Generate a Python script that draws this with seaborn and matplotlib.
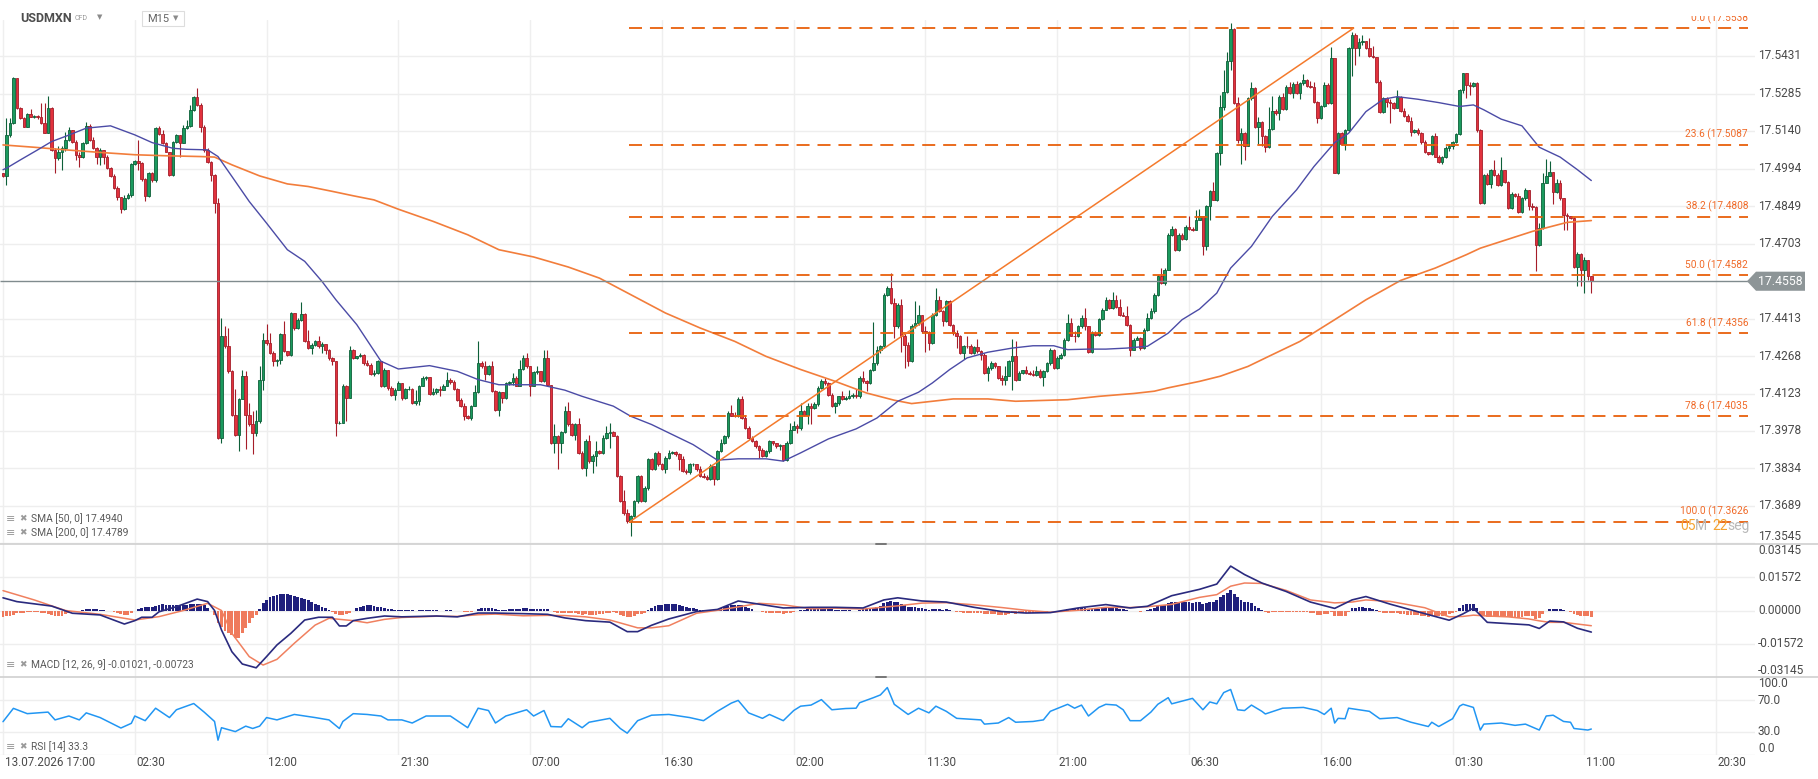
import numpy as np
import pandas as pd
import seaborn as sns
import matplotlib.pyplot as plt
import matplotlib.transforms as mtrans
from matplotlib.patches import Polygon, Rectangle
from matplotlib.lines import Line2D

sns.set_style("white")
plt.rcParams['font.family'] = ['Roboto', 'DejaVu Sans']

# ---- price data (M15 candles) ----
OPEN_FIRST = 17.4977
CLOSE = [
    17.4964, 17.5125, 17.5170, 17.5344, 17.5228, 17.5189, 17.5157, 17.5205, 17.5196, 17.5199,
    17.5193, 17.5170, 17.5134, 17.5231, 17.5067, 17.5035, 17.5060, 17.5073, 17.5106, 17.5144,
    17.5099, 17.5048, 17.5039, 17.5093, 17.5160, 17.5106, 17.5073, 17.5041, 17.5067, 17.5041,
    17.4996, 17.4964, 17.4919, 17.4886, 17.4837, 17.4880, 17.4893, 17.5013, 17.5022, 17.5015,
    17.4953, 17.4889, 17.4977, 17.4951, 17.5151, 17.5128, 17.5093, 17.5060, 17.4970, 17.5099,
    17.5125, 17.5095, 17.5151, 17.5160, 17.5222, 17.5271, 17.5241, 17.5157, 17.5067, 17.5018,
    17.4970, 17.4861, 17.3951, 17.4347, 17.4306, 17.4209, 17.4041, 17.3964, 17.4102, 17.4192,
    17.4041, 17.4003, 17.3970, 17.4016, 17.4174, 17.4332, 17.4319, 17.4280, 17.4248, 17.4254,
    17.4355, 17.4286, 17.4274, 17.4435, 17.4377, 17.4406, 17.4432, 17.4325, 17.4299, 17.4312,
    17.4325, 17.4306, 17.4316, 17.4293, 17.4261, 17.4248, 17.4009, 17.4009, 17.4154, 17.4106,
    17.4293, 17.4261, 17.4267, 17.4274, 17.4241, 17.4235, 17.4200, 17.4203, 17.4248, 17.4151,
    17.4216, 17.4145, 17.4119, 17.4138, 17.4164,
    17.4106, 17.4141, 17.4141, 17.4087, 17.4093,
    17.4154, 17.4183, 17.4187, 17.4123, 17.4128, 17.4141, 17.4138, 17.4154, 17.4177, 17.4166,
    17.4141, 17.4099, 17.4076, 17.4035, 17.4028, 17.4076, 17.4128, 17.4241, 17.4228, 17.4200,
    17.4228, 17.4132, 17.4058, 17.4128, 17.4106, 17.4164, 17.4166, 17.4183, 17.4154, 17.4218,
    17.4261, 17.4228, 17.4154, 17.4205, 17.4209, 17.4170, 17.4261, 17.4157, 17.3932, 17.3960,
    17.3932, 17.3973, 17.4054, 17.4003, 17.3964, 17.4003, 17.3893, 17.3835, 17.3938, 17.3861,
    17.3880, 17.3899, 17.3893, 17.3951, 17.3970, 17.3973, 17.3960, 17.3803, 17.3706, 17.3661,
    17.3629, 17.3650, 17.3706, 17.3805, 17.3706, 17.3758, 17.3870, 17.3829, 17.3893, 17.3848,
    17.3829, 17.3874, 17.3893, 17.3896, 17.3887, 17.3870, 17.3822, 17.3818, 17.3848, 17.3848,
    17.3829, 17.3805, 17.3800, 17.3790, 17.3841, 17.3790, 17.3899, 17.3932, 17.3958, 17.4048,
    17.4037, 17.4035, 17.4102, 17.4028, 17.3990, 17.3951, 17.3938, 17.3919, 17.3906, 17.3880,
    17.3899, 17.3938, 17.3932, 17.3919, 17.3925, 17.3867, 17.3932, 17.3983, 17.3996, 17.3990,
    17.4054, 17.4041, 17.4074, 17.4067, 17.4084, 17.4145, 17.4170, 17.4164, 17.4119, 17.4074,
    17.4087, 17.4112, 17.4102, 17.4106, 17.4112, 17.4119, 17.4112, 17.4183, 17.4170, 17.4164,
    17.4216, 17.4241, 17.4293, 17.4306, 17.4506, 17.4532, 17.4473, 17.4383, 17.4467, 17.4345,
    17.4312, 17.4248, 17.4386, 17.4396, 17.4428, 17.4364, 17.4360, 17.4319, 17.4428, 17.4484,
    17.4441, 17.4403, 17.4480, 17.4390, 17.4357, 17.4347, 17.4280, 17.4308, 17.4306, 17.4280,
    17.4303, 17.4286, 17.4274, 17.4203, 17.4222, 17.4241, 17.4228, 17.4183, 17.4177, 17.4192,
    17.4248, 17.4267, 17.4177, 17.4203, 17.4213, 17.4203, 17.4200, 17.4196, 17.4209, 17.4187,
    17.4209, 17.4241, 17.4293, 17.4222, 17.4261, 17.4274, 17.4329, 17.4396, 17.4347, 17.4345,
    17.4383, 17.4415, 17.4383, 17.4283, 17.4357, 17.4351, 17.4412, 17.4448, 17.4486, 17.4454,
    17.4486, 17.4458, 17.4428, 17.4424, 17.4390, 17.4293, 17.4332, 17.4338, 17.4299, 17.4370,
    17.4415, 17.4441, 17.4506, 17.4579, 17.4551, 17.4603, 17.4738, 17.4760, 17.4680, 17.4738,
    17.4721, 17.4770, 17.4760, 17.4757, 17.4796, 17.4809,
    17.4693, 17.4848, 17.4906, 17.4873,
    17.5054, 17.5232, 17.5293, 17.5413, 17.5534, 17.5248, 17.5106, 17.5131, 17.5080, 17.5267,
    17.5306, 17.5157, 17.5173, 17.5119, 17.5077, 17.5147, 17.5219, 17.5209, 17.5273, 17.5224,
    17.5312, 17.5286, 17.5322, 17.5286, 17.5325, 17.5338, 17.5314, 17.5312, 17.5254, 17.5189,
    17.5235, 17.5318, 17.5248, 17.5422, 17.4979, 17.5131, 17.5090, 17.5142, 17.5460, 17.5512,
    17.5460, 17.5486, 17.5490, 17.5460, 17.5431, 17.5426, 17.5331, 17.5215, 17.5267, 17.5254,
    17.5250, 17.5228, 17.5271, 17.5219, 17.5199, 17.5177, 17.5138, 17.5144, 17.5131, 17.5099,
    17.5057, 17.5051, 17.5119, 17.5041, 17.5018, 17.5039, 17.5073, 17.5082, 17.5099, 17.5129,
    17.5297, 17.5364, 17.5318, 17.5314, 17.5327, 17.5142, 17.4861, 17.4970, 17.4935, 17.4987,
    17.4970, 17.4931, 17.4987, 17.4944, 17.4841, 17.4897, 17.4889, 17.4828, 17.4880, 17.4910,
    17.4850, 17.4845, 17.4699, 17.4764, 17.4940, 17.4966, 17.4983, 17.4902, 17.4940, 17.4880,
    17.4815, 17.4809, 17.4802, 17.4615, 17.4664, 17.4603, 17.4639, 17.4577, 17.4558,
]
HIGH = [
    17.4979, 17.5189, 17.5189, 17.5348, 17.5340, 17.5232, 17.5196, 17.5209, 17.5224, 17.5202,
    17.5202, 17.5248, 17.5250, 17.5276, 17.5232, 17.5073, 17.5080, 17.5080, 17.5138, 17.5157,
    17.5142, 17.5106, 17.5060, 17.5099, 17.5173, 17.5168, 17.5116, 17.5077, 17.5073, 17.5067,
    17.5048, 17.5002, 17.4974, 17.4925, 17.4886, 17.4893, 17.4899, 17.5015, 17.5028, 17.5106,
    17.5018, 17.4957, 17.4983, 17.4983, 17.5155, 17.5160, 17.5144, 17.5099, 17.5060, 17.5103,
    17.5129, 17.5125, 17.5164, 17.5183, 17.5241, 17.5276, 17.5306, 17.5248, 17.5164, 17.5073,
    17.5022, 17.4974, 17.4880, 17.4415, 17.4383, 17.4377, 17.4216, 17.4141, 17.4106, 17.4216,
    17.4209, 17.4087, 17.4054, 17.4061, 17.4228, 17.4357, 17.4394, 17.4357, 17.4286, 17.4257,
    17.4357, 17.4403, 17.4286, 17.4437, 17.4435, 17.4415, 17.4476, 17.4435, 17.4370, 17.4319,
    17.4329, 17.4345, 17.4321, 17.4299, 17.4295, 17.4265, 17.4248, 17.4016, 17.4161, 17.4157,
    17.4306, 17.4295, 17.4270, 17.4280, 17.4277, 17.4252, 17.4241, 17.4216, 17.4252, 17.4248,
    17.4222, 17.4216, 17.4151, 17.4145, 17.4170,
    17.4164, 17.4145, 17.4151, 17.4145, 17.4138,
    17.4157, 17.4190, 17.4192, 17.4187, 17.4145, 17.4145, 17.4151, 17.4161, 17.4205, 17.4183,
    17.4177, 17.4145, 17.4106, 17.4087, 17.4041, 17.4080, 17.4157, 17.4325, 17.4248, 17.4248,
    17.4235, 17.4248, 17.4138, 17.4132, 17.4128, 17.4166, 17.4170, 17.4203, 17.4190, 17.4254,
    17.4274, 17.4280, 17.4228, 17.4209, 17.4228, 17.4200, 17.4293, 17.4290, 17.4157, 17.4003,
    17.3964, 17.3977, 17.4074, 17.4089, 17.4009, 17.4009, 17.4028, 17.3899, 17.3945, 17.3964,
    17.3887, 17.3938, 17.3906, 17.3964, 17.3996, 17.4009, 17.3977, 17.3964, 17.3809, 17.3751,
    17.3674, 17.3654, 17.3712, 17.3809, 17.3809, 17.3764, 17.3874, 17.3874, 17.3896, 17.3899,
    17.3854, 17.3880, 17.3906, 17.3899, 17.3899, 17.3893, 17.3880, 17.3829, 17.3854, 17.3852,
    17.3848, 17.3841, 17.3816, 17.3809, 17.3848, 17.3835, 17.3903, 17.3945, 17.3964, 17.4054,
    17.4080, 17.4050, 17.4110, 17.4112, 17.4041, 17.3996, 17.3958, 17.3942, 17.3925, 17.3912,
    17.3906, 17.3942, 17.3938, 17.3932, 17.3929, 17.3925, 17.3938, 17.4009, 17.4016, 17.4003,
    17.4087, 17.4058, 17.4087, 17.4087, 17.4089, 17.4151, 17.4179, 17.4183, 17.4166, 17.4125,
    17.4089, 17.4115, 17.4132, 17.4112, 17.4138, 17.4125, 17.4141, 17.4190, 17.4209, 17.4177,
    17.4218, 17.4399, 17.4306, 17.4312, 17.4512, 17.4538, 17.4590, 17.4493, 17.4473, 17.4489,
    17.4357, 17.4321, 17.4394, 17.4480, 17.4467, 17.4428, 17.4383, 17.4364, 17.4435, 17.4532,
    17.4499, 17.4448, 17.4486, 17.4484, 17.4394, 17.4368, 17.4351, 17.4312, 17.4345, 17.4316,
    17.4308, 17.4334, 17.4293, 17.4280, 17.4228, 17.4248, 17.4244, 17.4231, 17.4196, 17.4228,
    17.4254, 17.4334, 17.4325, 17.4209, 17.4216, 17.4228, 17.4209, 17.4213, 17.4228, 17.4218,
    17.4216, 17.4244, 17.4299, 17.4295, 17.4267, 17.4280, 17.4338, 17.4432, 17.4415, 17.4364,
    17.4390, 17.4428, 17.4454, 17.4386, 17.4364, 17.4364, 17.4415, 17.4454, 17.4497, 17.4489,
    17.4515, 17.4506, 17.4489, 17.4437, 17.4463, 17.4394, 17.4338, 17.4345, 17.4342, 17.4377,
    17.4435, 17.4454, 17.4512, 17.4583, 17.4609, 17.4609, 17.4744, 17.4773, 17.4764, 17.4744,
    17.4744, 17.4777, 17.4811, 17.4768, 17.4832, 17.4837,
    17.4802, 17.4854, 17.4912, 17.4944,
    17.5060, 17.5280, 17.5377, 17.5447, 17.5560, 17.5538, 17.5273, 17.5151, 17.5138, 17.5271,
    17.5331, 17.5312, 17.5193, 17.5177, 17.5125, 17.5232, 17.5276, 17.5224, 17.5280, 17.5286,
    17.5318, 17.5331, 17.5331, 17.5335, 17.5331, 17.5361, 17.5340, 17.5335, 17.5331, 17.5258,
    17.5241, 17.5331, 17.5325, 17.5467, 17.5041, 17.5138, 17.5138, 17.5147, 17.5467, 17.5525,
    17.5518, 17.5499, 17.5512, 17.5490, 17.5499, 17.5469, 17.5428, 17.5338, 17.5271, 17.5273,
    17.5263, 17.5254, 17.5297, 17.5276, 17.5228, 17.5206, 17.5196, 17.5147, 17.5151, 17.5138,
    17.5106, 17.5060, 17.5125, 17.5131, 17.5048, 17.5044, 17.5080, 17.5090, 17.5103, 17.5131,
    17.5302, 17.5366, 17.5366, 17.5331, 17.5331, 17.5331, 17.5147, 17.4974, 17.4977, 17.4992,
    17.5026, 17.4979, 17.5041, 17.4990, 17.4948, 17.4902, 17.4899, 17.4899, 17.4886, 17.4919,
    17.4912, 17.4861, 17.4850, 17.4783, 17.4979, 17.5031, 17.5022, 17.4983, 17.4953, 17.4951,
    17.4880, 17.4822, 17.4811, 17.4806, 17.4670, 17.4667, 17.4652, 17.4641, 17.4579,
]
LOW = [
    17.4961, 17.4931, 17.5116, 17.5168, 17.5224, 17.5186, 17.5155, 17.5155, 17.5193, 17.5189,
    17.5186, 17.5168, 17.5131, 17.5131, 17.5064, 17.4977, 17.5028, 17.4990, 17.5064, 17.5103,
    17.5095, 17.5028, 17.5002, 17.5035, 17.5090, 17.5103, 17.5069, 17.5013, 17.5009, 17.5013,
    17.4992, 17.4961, 17.4915, 17.4873, 17.4822, 17.4835, 17.4876, 17.4886, 17.5009, 17.4990,
    17.4948, 17.4867, 17.4886, 17.4944, 17.4944, 17.5125, 17.5090, 17.5057, 17.4966, 17.4966,
    17.5095, 17.5041, 17.5093, 17.5147, 17.5157, 17.5219, 17.5237, 17.5138, 17.5060, 17.5015,
    17.4948, 17.4822, 17.3947, 17.3932, 17.4299, 17.4203, 17.4035, 17.3958, 17.3899, 17.4132,
    17.3908, 17.3996, 17.3887, 17.3958, 17.4007, 17.4138, 17.4312, 17.4277, 17.4228, 17.4228,
    17.4239, 17.4283, 17.4270, 17.4270, 17.4370, 17.4373, 17.4403, 17.4321, 17.4295, 17.4277,
    17.4306, 17.4299, 17.4280, 17.4277, 17.4254, 17.4235, 17.3958, 17.4003, 17.4007, 17.4016,
    17.4106, 17.4257, 17.4257, 17.4265, 17.4235, 17.4228, 17.4196, 17.4190, 17.4200, 17.4148,
    17.4148, 17.4138, 17.4112, 17.4099, 17.4136,
    17.4099, 17.4102, 17.4136, 17.4084, 17.4080,
    17.4080, 17.4151, 17.4177, 17.4119, 17.4119, 17.4123, 17.4115, 17.4136, 17.4151, 17.4161,
    17.4136, 17.4093, 17.4071, 17.4022, 17.4025, 17.4022, 17.4074, 17.4125, 17.4222, 17.4177,
    17.4196, 17.4128, 17.4054, 17.4035, 17.4087, 17.4102, 17.4157, 17.4157, 17.4151, 17.4151,
    17.4213, 17.4222, 17.4112, 17.4151, 17.4200, 17.4166, 17.4166, 17.4154, 17.3929, 17.3893,
    17.3829, 17.3893, 17.3970, 17.3999, 17.3958, 17.3942, 17.3890, 17.3829, 17.3803, 17.3854,
    17.3816, 17.3841, 17.3887, 17.3890, 17.3945, 17.3912, 17.3958, 17.3800, 17.3702, 17.3654,
    17.3622, 17.3571, 17.3645, 17.3700, 17.3702, 17.3702, 17.3751, 17.3826, 17.3826, 17.3841,
    17.3826, 17.3816, 17.3870, 17.3887, 17.3880, 17.3826, 17.3818, 17.3813, 17.3813, 17.3841,
    17.3822, 17.3800, 17.3796, 17.3787, 17.3787, 17.3770, 17.3787, 17.3896, 17.3929, 17.3951,
    17.4035, 17.4032, 17.4032, 17.4025, 17.3986, 17.3947, 17.3934, 17.3912, 17.3874, 17.3878,
    17.3878, 17.3893, 17.3925, 17.3912, 17.3906, 17.3861, 17.3861, 17.3929, 17.3981, 17.3970,
    17.3983, 17.4035, 17.4003, 17.4003, 17.4063, 17.4076, 17.4141, 17.4157, 17.4115, 17.4071,
    17.4048, 17.4080, 17.4097, 17.4099, 17.4102, 17.4106, 17.4106, 17.4106, 17.4164, 17.4132,
    17.4161, 17.4209, 17.4235, 17.4280, 17.4299, 17.4499, 17.4471, 17.4338, 17.4377, 17.4283,
    17.4222, 17.4228, 17.4244, 17.4377, 17.4390, 17.4357, 17.4283, 17.4293, 17.4316, 17.4422,
    17.4437, 17.4386, 17.4399, 17.4386, 17.4351, 17.4299, 17.4277, 17.4257, 17.4299, 17.4277,
    17.4277, 17.4280, 17.4254, 17.4200, 17.4170, 17.4216, 17.4222, 17.4179, 17.4157, 17.4157,
    17.4190, 17.4138, 17.4170, 17.4174, 17.4200, 17.4200, 17.4196, 17.4192, 17.4192, 17.4183,
    17.4154, 17.4205, 17.4235, 17.4218, 17.4218, 17.4257, 17.4270, 17.4325, 17.4345, 17.4321,
    17.4342, 17.4377, 17.4370, 17.4280, 17.4280, 17.4345, 17.4347, 17.4409, 17.4445, 17.4450,
    17.4450, 17.4454, 17.4424, 17.4422, 17.4386, 17.4267, 17.4290, 17.4329, 17.4293, 17.4295,
    17.4364, 17.4412, 17.4435, 17.4502, 17.4548, 17.4544, 17.4600, 17.4734, 17.4677, 17.4677,
    17.4719, 17.4719, 17.4755, 17.4751, 17.4755, 17.4806,
    17.4661, 17.4680, 17.4796, 17.4871,
    17.4867, 17.5009, 17.5222, 17.5286, 17.5377, 17.5245, 17.5093, 17.5013, 17.5028, 17.5080,
    17.5260, 17.5151, 17.5090, 17.5080, 17.5060, 17.5073, 17.5144, 17.5202, 17.5183, 17.5222,
    17.5222, 17.5284, 17.5267, 17.5284, 17.5263, 17.5318, 17.5312, 17.5306, 17.5250, 17.5170,
    17.5186, 17.5232, 17.5245, 17.5245, 17.4977, 17.4974, 17.5086, 17.5067, 17.5138, 17.5353,
    17.5396, 17.5431, 17.5473, 17.5456, 17.5428, 17.5422, 17.5327, 17.5211, 17.5211, 17.5232,
    17.5170, 17.5224, 17.5228, 17.5215, 17.5196, 17.5173, 17.5119, 17.5131, 17.5125, 17.5090,
    17.5054, 17.5048, 17.5048, 17.5039, 17.5015, 17.5013, 17.5035, 17.5064, 17.5069, 17.5095,
    17.5125, 17.5289, 17.5267, 17.5280, 17.5312, 17.5138, 17.4858, 17.4858, 17.4931, 17.4919,
    17.4966, 17.4928, 17.4928, 17.4940, 17.4837, 17.4837, 17.4886, 17.4822, 17.4824, 17.4873,
    17.4832, 17.4832, 17.4596, 17.4695, 17.4760, 17.4938, 17.4964, 17.4858, 17.4899, 17.4873,
    17.4755, 17.4757, 17.4799, 17.4609, 17.4538, 17.4538, 17.4512, 17.4564, 17.4512,
]

# moving averages (candle index, value)
SMA50_X = [0, 1, 5, 10, 14, 18, 24, 31, 38, 43, 49, 53, 59, 62, 66, 71, 76, 82, 87, 92,
           96, 102, 109, 114, 123, 131, 137, 143, 155, 162, 167, 176, 181, 187, 193, 199, 206, 212, 220, 225,
           230, 238, 246, 252, 258, 264, 268, 273, 278, 284, 291, 297, 303, 307, 313, 318, 324, 330, 336, 340,
           345, 350, 354, 360, 366, 373, 378, 384, 388, 393, 398, 402, 408, 414, 420, 424, 427, 432, 438, 443,
           449, 454, 458]
SMA50_Y = [17.4990, 17.4996, 17.5028, 17.5067, 17.5099, 17.5119, 17.5151, 17.5160, 17.5125, 17.5095,
           17.5073, 17.5069, 17.5067, 17.5041, 17.4964, 17.4867, 17.4783, 17.4680, 17.4635, 17.4557,
           17.4486, 17.4390, 17.4248, 17.4218, 17.4231, 17.4209, 17.4177, 17.4157, 17.4157, 17.4136,
           17.4112, 17.4074, 17.4035, 17.4003, 17.3964, 17.3925, 17.3865, 17.3870, 17.3870, 17.3861,
           17.3893, 17.3947, 17.3986, 17.4028, 17.4093, 17.4128, 17.4164, 17.4216, 17.4261, 17.4283,
           17.4299, 17.4308, 17.4308, 17.4293, 17.4295, 17.4295, 17.4299, 17.4306, 17.4357, 17.4409,
           17.4450, 17.4512, 17.4609, 17.4693, 17.4809, 17.4912, 17.5002, 17.5095, 17.5131, 17.5215,
           17.5263, 17.5273, 17.5263, 17.5250, 17.5235, 17.5241, 17.5222, 17.5186, 17.5160, 17.5077,
           17.5039, 17.4990, 17.4948]
SMA200_X = [0, 9, 18, 28, 38, 47, 57, 61, 66, 74, 82, 88, 95, 101, 107, 114, 124, 134, 143, 153,
            163, 172, 182, 191, 201, 211, 220, 230, 240, 249, 257, 262, 268, 274, 284, 292, 307, 316, 326, 332,
            336, 345, 351, 359, 365, 374, 384, 393, 403, 413, 422, 426, 432, 441, 451, 458]
SMA200_Y = [17.5086, 17.5077, 17.5067, 17.5057, 17.5048, 17.5044, 17.5041, 17.5039, 17.5009, 17.4966,
            17.4935, 17.4925, 17.4906, 17.4889, 17.4873, 17.4837, 17.4790, 17.4738, 17.4680, 17.4652,
            17.4613, 17.4570, 17.4499, 17.4435, 17.4377, 17.4325, 17.4267, 17.4216, 17.4170, 17.4125,
            17.4097, 17.4084, 17.4093, 17.4102, 17.4102, 17.4093, 17.4099, 17.4112, 17.4123, 17.4132,
            17.4145, 17.4170, 17.4190, 17.4228, 17.4267, 17.4325, 17.4409, 17.4486, 17.4561, 17.4609,
            17.4661, 17.4686, 17.4712, 17.4751, 17.4786, 17.4793]

# MACD (12, 26, 9): lines at (candle index, value), histogram per candle
MACD_X = [0, 4, 14, 20, 28, 35, 38, 40, 43, 45, 50, 56, 59, 61, 63, 66, 69, 73, 76, 79,
          83, 87, 91, 95, 97, 99, 101, 105, 110, 115, 125, 131, 137, 142, 150, 157, 162, 168, 175, 180,
          183, 187, 192, 200, 206, 212, 218, 225, 233, 240, 248, 254, 258, 265, 272, 280, 288, 295, 302, 310,
          318, 325, 330, 337, 345, 350, 354, 358, 363, 370, 377, 384, 389, 393, 400, 410, 417, 421, 424, 428,
          434, 440, 443, 446, 450, 454, 458]
MACD_Y = [0.0060, 0.0042, 0.0021, -0.0013, -0.0021, -0.0064, -0.0048, -0.0032, -0.0032, -0.0006,
          0.0018, 0.0054, 0.0042, 0.0000, -0.0092, -0.0195, -0.0253, -0.0271, -0.0218, -0.0163,
          -0.0108, -0.0045, -0.0032, -0.0032, -0.0073, -0.0073, -0.0048, -0.0037, -0.0026, -0.0030,
          -0.0026, -0.0030, -0.0012, -0.0012, -0.0015, -0.0018, -0.0035, -0.0048, -0.0055, -0.0100,
          -0.0100, -0.0070, -0.0040, -0.0005, 0.0005, 0.0045, 0.0030, 0.0012, 0.0015, 0.0015,
          0.0012, 0.0050, 0.0060, 0.0045, 0.0040, 0.0015, -0.0005, -0.0012, -0.0010, 0.0012,
          0.0028, 0.0012, 0.0020, 0.0070, 0.0100, 0.0125, 0.0210, 0.0170, 0.0130, 0.0090,
          0.0040, 0.0010, 0.0050, 0.0066, 0.0030, -0.0015, -0.0046, -0.0016, 0.0011, -0.0056,
          -0.0062, -0.0068, -0.0085, -0.0050, -0.0054, -0.0084, -0.0102]
SIGNAL_X = [0, 9, 18, 28, 38, 45, 52, 59, 63, 66, 71, 75, 79, 84, 90, 94, 101, 105, 110, 115,
            125, 131, 137, 142, 150, 157, 162, 168, 175, 180, 183, 187, 192, 200, 206, 212, 218, 225, 233, 240,
            248, 254, 258, 265, 272, 280, 288, 295, 302, 310, 318, 325, 330, 337, 345, 350, 354, 358, 363, 370,
            377, 384, 389, 393, 400, 410, 417, 421, 424, 428, 434, 440, 443, 446, 450, 454, 458]
SIGNAL_Y = [0.0094, 0.0050, 0.0000, -0.0018, -0.0045, -0.0029, 0.0000, 0.0034, 0.0000, -0.0108,
            -0.0218, -0.0258, -0.0231, -0.0155, -0.0069, -0.0037, -0.0048, -0.0058, -0.0042, -0.0033,
            -0.0027, -0.0028, -0.0020, -0.0017, -0.0025, -0.0023, -0.0024, -0.0030, -0.0045, -0.0068,
            -0.0082, -0.0082, -0.0072, -0.0013, 0.0001, 0.0017, 0.0034, 0.0027, 0.0008, 0.0011,
            0.0007, 0.0016, 0.0022, 0.0035, 0.0037, 0.0027, 0.0014, 0.0001, -0.0008, 0.0001,
            0.0015, 0.0014, 0.0018, 0.0029, 0.0062, 0.0075, 0.0115, 0.0130, 0.0128, 0.0095,
            0.0050, 0.0036, 0.0040, 0.0050, 0.0043, 0.0013, -0.0030, -0.0028, -0.0022, -0.0026,
            -0.0030, -0.0040, -0.0049, -0.0056, -0.0056, -0.0064, -0.0072]
HIST = [
    -0.0030, -0.0028, -0.0026, -0.0022,
    -0.0012, -0.0010, -0.0010, -0.0009, -0.0009, -0.0008, -0.0008, -0.0010, -0.0012, -0.0016,
    -0.0022, -0.0025, -0.0026, -0.0024, -0.0018,
    -0.0010, -0.0006, -0.0004, -0.0003, 0.0002,
    0.0006, 0.0008, 0.0008, 0.0006, 0.0003,
    0.0001, 0.0000, -0.0002, -0.0006, -0.0012,
    -0.0018, -0.0021, -0.0020, -0.0012, -0.0002,
    0.0008, 0.0014, 0.0016, 0.0017, 0.0018, 0.0022,
    0.0027, 0.0029, 0.0028, 0.0026, 0.0025,
    0.0024, 0.0023, 0.0024, 0.0026,
    0.0029, 0.0031, 0.0032, 0.0030, 0.0024, 0.0012,
    -0.0002, -0.0022, -0.0058,
    -0.0080, -0.0096, -0.0106, -0.0118, -0.0129,
    -0.0128, -0.0108, -0.0082, -0.0058, -0.0035,
    -0.0020, 0.0006, 0.0036,
    0.0052, 0.0062, 0.0068, 0.0072, 0.0076, 0.0079,
    0.0078, 0.0074, 0.0070, 0.0066,
    0.0060, 0.0055, 0.0048,
    0.0038, 0.0030, 0.0025,
    0.0016, 0.0010, 0.0004,
    -0.0008, -0.0016, -0.0019, -0.0020, -0.0018, -0.0012, -0.0002,
    0.0010, 0.0017, 0.0022, 0.0027,
    0.0026, 0.0022, 0.0018, 0.0016, 0.0012,
    0.0008, 0.0006, 0.0004, 0.0004,
    0.0003, 0.0003, 0.0002, 0.0001, 0.0000, 0.0001, 0.0002, 0.0003, 0.0002, 0.0001, 0.0001, 0.0000, 0.0000, 0.0001, 0.0001,
    0.0000, -0.0002, -0.0004, -0.0006, -0.0007, -0.0005, -0.0002,
    0.0008, 0.0012, 0.0013, 0.0014, 0.0010, 0.0005, 0.0004, 0.0003, 0.0004,
    0.0005, 0.0006, 0.0006, 0.0008, 0.0010, 0.0010, 0.0008, 0.0008, 0.0008, 0.0006, 0.0008, 0.0005,
    -0.0004, -0.0008, -0.0012, -0.0013, -0.0011, -0.0011, -0.0012, -0.0012, -0.0016, -0.0020, -0.0018, -0.0020,
    -0.0020, -0.0019, -0.0018, -0.0015, -0.0012, -0.0010, -0.0009, -0.0014, -0.0022, -0.0028, -0.0032, -0.0031, -0.0028,
    -0.0018, -0.0016, -0.0010, 0.0002, 0.0012, 0.0022, 0.0026, 0.0028, 0.0031, 0.0032,
    0.0031, 0.0029, 0.0026, 0.0020, 0.0015, 0.0013, 0.0011,
    0.0008, 0.0004, 0.0001, -0.0002, -0.0001, -0.0003, 0.0004, 0.0010, 0.0015,
    0.0022, 0.0025, 0.0026, 0.0028, 0.0024, 0.0018, 0.0011, 0.0005,
    0.0000, -0.0004, -0.0008, -0.0010, -0.0010, -0.0010, -0.0011, -0.0012, -0.0015, -0.0014, -0.0010, -0.0006, -0.0004, 0.0001, 0.0003, 0.0006, 0.0007,
    0.0009, 0.0012, 0.0014, 0.0013, 0.0010, 0.0005, 0.0004, 0.0003, 0.0002, 0.0001, 0.0001, 0.0000, 0.0000, 0.0004, 0.0005, 0.0005, 0.0008,
    0.0012, 0.0018, 0.0022, 0.0034, 0.0042, 0.0043, 0.0038, 0.0038, 0.0030, 0.0024, 0.0016, 0.0016,
    0.0015, 0.0014, 0.0010, 0.0007, 0.0003, 0.0005, 0.0008, 0.0006, 0.0003, 0.0005,
    0.0001, -0.0002, -0.0005, -0.0009, -0.0010, -0.0011, -0.0012, -0.0012, -0.0012, -0.0013, -0.0016, -0.0017, -0.0017, -0.0017,
    -0.0019, -0.0020, -0.0019, -0.0016, -0.0013, -0.0015, -0.0014, -0.0013, -0.0012, -0.0011, -0.0010, -0.0009, -0.0009, -0.0008,
    -0.0006, -0.0002, -0.0004, -0.0002, 0.0000, 0.0003, 0.0008, 0.0009, 0.0009, 0.0011,
    0.0013, 0.0012, 0.0006, 0.0006, 0.0006, 0.0008, 0.0010, 0.0013, 0.0012, 0.0013,
    0.0011, 0.0009, 0.0007, 0.0004, -0.0002, -0.0003, -0.0003, -0.0005, -0.0002, 0.0002, 0.0006, 0.0012,
    0.0019, 0.0022, 0.0027, 0.0036, 0.0041, 0.0039, 0.0040, 0.0039, 0.0040, 0.0039, 0.0037, 0.0038, 0.0038,
    0.0030, 0.0035, 0.0040, 0.0040, 0.0050, 0.0064, 0.0074,
    0.0085, 0.0095, 0.0080, 0.0062, 0.0052, 0.0040,
    0.0040, 0.0036, 0.0022, 0.0012, 0.0002, -0.0008, -0.0010, -0.0008, -0.0008, -0.0006, -0.0008, -0.0005,
    -0.0006, -0.0005, -0.0006, -0.0006, -0.0006, -0.0008, -0.0010, -0.0014, -0.0020, -0.0020, -0.0016, -0.0016, -0.0006,
    -0.0026, -0.0026, -0.0028, -0.0026,
    -0.0006, 0.0010, 0.0014, 0.0016, 0.0016, 0.0014, 0.0011, 0.0008,
    0.0001, -0.0008, -0.0010, -0.0012, -0.0013, -0.0014, -0.0013, -0.0015, -0.0017, -0.0019, -0.0022, -0.0022,
    -0.0023, -0.0025, -0.0028, -0.0029, -0.0024, -0.0026, -0.0027, -0.0024, -0.0020, -0.0016, -0.0012,
    -0.0006, 0.0012, 0.0025, 0.0030, 0.0032, 0.0033, 0.0010,
    -0.0022, -0.0026, -0.0030, -0.0029, -0.0028, -0.0029, -0.0026, -0.0026, -0.0032, -0.0032,
    -0.0031, -0.0034, -0.0032, -0.0028, -0.0028, -0.0027, -0.0040, -0.0036, -0.0016,
    -0.0004, 0.0006, 0.0008, 0.0009, 0.0006, 0.0002, -0.0002,
    -0.0006, -0.0018, -0.0020, -0.0024, -0.0024, -0.0027, -0.0030,
]

# RSI (14)
RSI_X = [0, 3, 7, 13, 15, 19, 22, 24, 28, 34, 37, 38, 41, 44, 48, 50, 55, 58, 61, 62,
         63, 67, 70, 72, 74, 76, 79, 84, 90, 94, 97, 98, 101, 105, 109, 111, 115, 118, 122, 129,
         134, 137, 140, 142, 145, 151, 153, 156, 158, 161, 163, 167, 169, 175, 178, 180, 183, 187, 192, 198,
         202, 206, 210, 212, 215, 219, 221, 225, 228, 230, 233, 236, 239, 243, 246, 247, 251, 253, 255, 257,
         261, 264, 267, 269, 272, 275, 282, 283, 287, 290, 292, 297, 300, 302, 307, 309, 311, 313, 316, 318,
         321, 323, 325, 328, 331, 333, 336, 337, 343, 346, 348, 350, 352, 354, 356, 358, 360, 363, 364, 369,
         375, 379, 381, 383, 384, 385, 387, 388, 394, 397, 402, 406, 411, 412, 414, 418, 420, 421, 424, 426,
         427, 432, 436, 439, 443, 445, 447, 450, 452, 453, 457, 458]
RSI_Y = [42.7, 59.8, 53, 55, 45, 50, 45, 54, 48, 34.6, 40.6, 50, 44, 60, 48, 58, 66, 55, 43, 19,
         35, 30, 37, 34, 37, 48, 45, 52, 48, 45, 34, 43, 53, 52, 50, 45, 45, 41, 50, 50,
         35, 60, 57, 41, 50, 58, 50, 57, 36.5, 36, 46.5, 35, 42, 47, 34, 28, 44, 51, 52, 48,
         44, 56, 66.5, 70, 54, 47, 52, 44, 57, 62.6, 64, 71, 58, 59.6, 60, 67, 73.5, 77, 86.5, 65,
         52, 60, 54, 62.6, 56, 47, 45, 39.6, 41, 48, 42, 43, 45, 56, 65, 60, 64, 50, 61, 65,
         64, 58, 44, 44, 55, 65, 73.5, 65.6, 72.6, 58, 68, 65.6, 80, 84, 58, 57, 64, 56, 52.6, 60,
         61, 57, 52, 60, 41, 47, 46.5, 60, 56, 46.5, 48, 42, 36.5, 42, 36.5, 46.5, 62.6, 65, 61, 32,
         39.6, 41, 38, 39.6, 32, 50, 51, 43, 42, 34, 32, 33.3]

# Fibonacci retracement
FIB_PCT = ["0.0", "23.6", "38.2", "50.0", "61.8", "78.6", "100.0"]
FIB_PRICE = [17.5538, 17.5087, 17.4808, 17.4582, 17.4356, 17.4035, 17.3626]
FIB_X = [180.5, 503.2]
TREND_X = [180.7, 389.4]
TREND_Y = [17.3626, 17.5538]
LAST_PRICE = 17.4558

PRICE_TICKS = ["17.3545", "17.3689", "17.3834", "17.3978", "17.4123", "17.4268", "17.4413",
               "17.4703", "17.4849", "17.4994", "17.5140", "17.5285", "17.5431"]
MACD_TICKS = ["0.03145", "0.01572", "0.00000", "-0.01572", "-0.03145"]
RSI_TICKS = ["100.0", "70.0", "30.0", "0.0"]
TIME_LABELS = ["13.07.2026 17:00", "02:30", "12:00", "21:30", "07:00", "16:30", "02:00",
               "11:30", "21:00", "06:30", "16:00", "01:30", "11:00", "20:30"]
TIME_IDX = [0, 38, 76, 114, 152, 190, 228, 266, 304, 342, 380, 418, 456, 494]

# ---- figure ----
W, H = 1818, 779
fig = plt.figure(figsize=(W / 100, H / 100), dpi=100)
fig.patch.set_facecolor("white")


def fx(px):
    return px / W


def fy(py):
    return 1 - py / H


ax = fig.add_axes([0, fy(544), fx(1755), (544 - 20) / H])
ax_m = fig.add_axes([0, fy(677), fx(1755), (677 - 544) / H])
ax_r = fig.add_axes([0, fy(755), fx(1755), (755 - 677) / H])
XLIM = (-0.865, 505.2)
for a in (ax, ax_m, ax_r):
    a.set_xlim(*XLIM)
    a.set_xticks([])
    a.set_yticks([])
    for s in a.spines.values():
        s.set_visible(False)
    for i in TIME_IDX:
        a.axvline(i, color="#efefef", lw=1, zorder=0)
ax.set_ylim(17.3540, 17.5570)
ax_m.set_ylim(-0.03145, 0.03145)
ax_r.set_ylim(0, 100)

GRID = "#eeeeee"
TXT = "#4a4a4a"
for t in PRICE_TICKS:
    ax.axhline(float(t), color=GRID, lw=1, zorder=0)
for t in MACD_TICKS[1:-1]:
    ax_m.axhline(float(t), color=GRID, lw=1, zorder=0)
for t in RSI_TICKS[1:]:
    ax_r.axhline(float(t), color=GRID, lw=1, zorder=0)

# candles
n = min(len(CLOSE), len(HIGH), len(LOW))
df = pd.DataFrame({"close": CLOSE[:n], "high": HIGH[:n], "low": LOW[:n]})
df["open"] = [OPEN_FIRST] + CLOSE[:n - 1]
df["idx"] = np.arange(n)
up = (df["close"] >= df["open"]).values
face = np.where(up, "#1b9a5e", "#e2323d")
edge = np.where(up, "#0d5f38", "#a51d29")
ax.vlines(df["idx"], df["low"], df["high"], colors=edge, lw=0.8, zorder=3)
bottom = np.minimum(df["open"], df["close"])
height = np.maximum(np.abs(df["close"] - df["open"]), 0.00006)
ax.bar(df["idx"], height, bottom=bottom, width=0.74, color=face, edgecolor=edge,
       linewidth=0.6, zorder=4)

# moving averages
sns.lineplot(x=SMA200_X, y=SMA200_Y, ax=ax, color="#f27d3b", lw=1.2, zorder=5,
             estimator=None, sort=False)
sns.lineplot(x=SMA50_X, y=SMA50_Y, ax=ax, color="#4b4ba6", lw=1.0, zorder=5,
             estimator=None, sort=False)

# fibonacci
for pct, p in zip(FIB_PCT, FIB_PRICE):
    ax.plot(FIB_X, [p, p], color="#e8600c", lw=1.3, ls=(0, (7.2, 4.4)), zorder=6)
    ax.annotate(f"{pct} ({p:.4f}", xy=(FIB_X[1], p), xytext=(0, 3.2), textcoords="offset points",
                ha="right", va="bottom", fontsize=7.3, color="#f06a28", zorder=7,
                annotation_clip=False)
ax.plot(TREND_X, TREND_Y, color="#f47a2c", lw=1.1, zorder=6)
# the chart's top edge trims the topmost fib label
fig.add_artist(Rectangle((fx(1600), fy(16)), fx(156), 16 / H, facecolor="white",
                         edgecolor="none", zorder=20))

# last price line + tag
ax.hlines(LAST_PRICE, XLIM[0], FIB_X[1] + 0.2, color="#808b8e", lw=1, zorder=6)
tr = mtrans.blended_transform_factory(fig.transFigure, ax.transData)
hh = 0.0037
tag = Polygon([[fx(1747), LAST_PRICE], [fx(1756), LAST_PRICE + hh], [fx(1805), LAST_PRICE + hh],
               [fx(1805), LAST_PRICE - hh], [fx(1756), LAST_PRICE - hh]],
              closed=True, transform=tr, facecolor="#8d9597", edgecolor="none", clip_on=False, zorder=8)
ax.add_patch(tag)
ax.text(fx(1758), LAST_PRICE, f"{LAST_PRICE:.4f}", transform=tr, ha="left", va="center",
        fontsize=8.8, color="white", zorder=9, clip_on=False)

# countdown
for xpix, s, c in [(1680, "05", "#f5a330"), (1695, "M", "#b8b8b8"),
                   (1712, "22", "#f5a330"), (1727, "seg", "#b8b8b8")]:
    ax.text(fx(xpix), 17.3611, s, transform=tr, color=c, fontsize=10, va="center", ha="left",
            zorder=8, clip_on=False)


# right-hand value labels
def right_labels(a, labels, top_idx=None, bottom_idx=None):
    trl = mtrans.blended_transform_factory(fig.transFigure, a.transData)
    for k, t in enumerate(labels):
        va = "center"
        if k == top_idx:
            va = "top"
        if k == bottom_idx:
            va = "bottom"
        a.text(fx(1758), float(t), t, transform=trl, ha="left", va=va, fontsize=8.6,
               color=TXT, clip_on=False)


right_labels(ax, PRICE_TICKS, bottom_idx=0)
right_labels(ax_m, MACD_TICKS, top_idx=0, bottom_idx=len(MACD_TICKS) - 1)
right_labels(ax_r, RSI_TICKS, top_idx=0, bottom_idx=len(RSI_TICKS) - 1)

# MACD histogram + lines
nh = min(len(HIST), n)
hist = pd.DataFrame({"idx": np.arange(nh), "h": HIST[:nh]})
hcol = np.where(hist["h"] >= 0, "#1f1f7c", "#ef7a5c")
ax_m.bar(hist["idx"], hist["h"], width=0.82, color=hcol, linewidth=0, zorder=3)
sns.lineplot(x=SIGNAL_X, y=SIGNAL_Y, ax=ax_m, color="#f0805f", lw=1.1, zorder=5,
             estimator=None, sort=False)
sns.lineplot(x=MACD_X, y=MACD_Y, ax=ax_m, color="#2a2a7e", lw=1.2, zorder=6,
             estimator=None, sort=False)

# RSI
sns.lineplot(x=RSI_X, y=RSI_Y, ax=ax_r, color="#2196f3", lw=1.1, zorder=5,
             estimator=None, sort=False)

# time labels
for i, lab in zip(TIME_IDX, TIME_LABELS):
    ax_r.text(i + 0.5, -0.09, lab, transform=ax_r.get_xaxis_transform(), ha="left", va="center",
              fontsize=8.4, color=TXT, clip_on=False)

# panel separators
for yy in (544, 677):
    fig.add_artist(Line2D([0, 1], [fy(yy), fy(yy)], color="#d0d0d0", lw=1.2))
    fig.add_artist(Line2D([fx(876), fx(886)], [fy(yy), fy(yy)], color="#777777", lw=1.4))

# header
fig.text(fx(20), fy(18), "USDMXN", fontsize=9, fontweight="bold", color="#4d4d4d", va="center")
fig.text(fx(75), fy(19), "CFD", fontsize=5, color="#999999", va="center")
fig.text(fx(97), fy(17), "\u25BC", fontsize=5, color="#8a8a8a", va="center", family="DejaVu Sans")
fig.add_artist(Rectangle((fx(142), fy(26)), fx(42), 15 / H, facecolor="white", edgecolor="#dddddd", lw=0.8))
fig.text(fx(147), fy(18.5), "M15", fontsize=8, color="#666666", va="center")
fig.text(fx(173), fy(18), "\u25BC", fontsize=5, color="#8a8a8a", va="center", family="DejaVu Sans")


# indicator legends
def legend_line(y, text):
    fig.text(fx(6), fy(y), "\u2261", fontsize=8, color="#9a9a9a", va="center", family="DejaVu Sans")
    fig.text(fx(19), fy(y), "\u2716", fontsize=6.5, color="#9a9a9a", va="center", family="DejaVu Sans")
    fig.text(fx(31), fy(y), text, fontsize=7.4, color="#5a5a5a", va="center")


legend_line(519, "SMA [50, 0] 17.4940")
legend_line(533, "SMA [200, 0] 17.4789")
legend_line(665, "MACD [12, 26, 9] -0.01021, -0.00723")
legend_line(747, "RSI [14] 33.3")

fig.savefig("out.png", dpi=100, facecolor="white")
